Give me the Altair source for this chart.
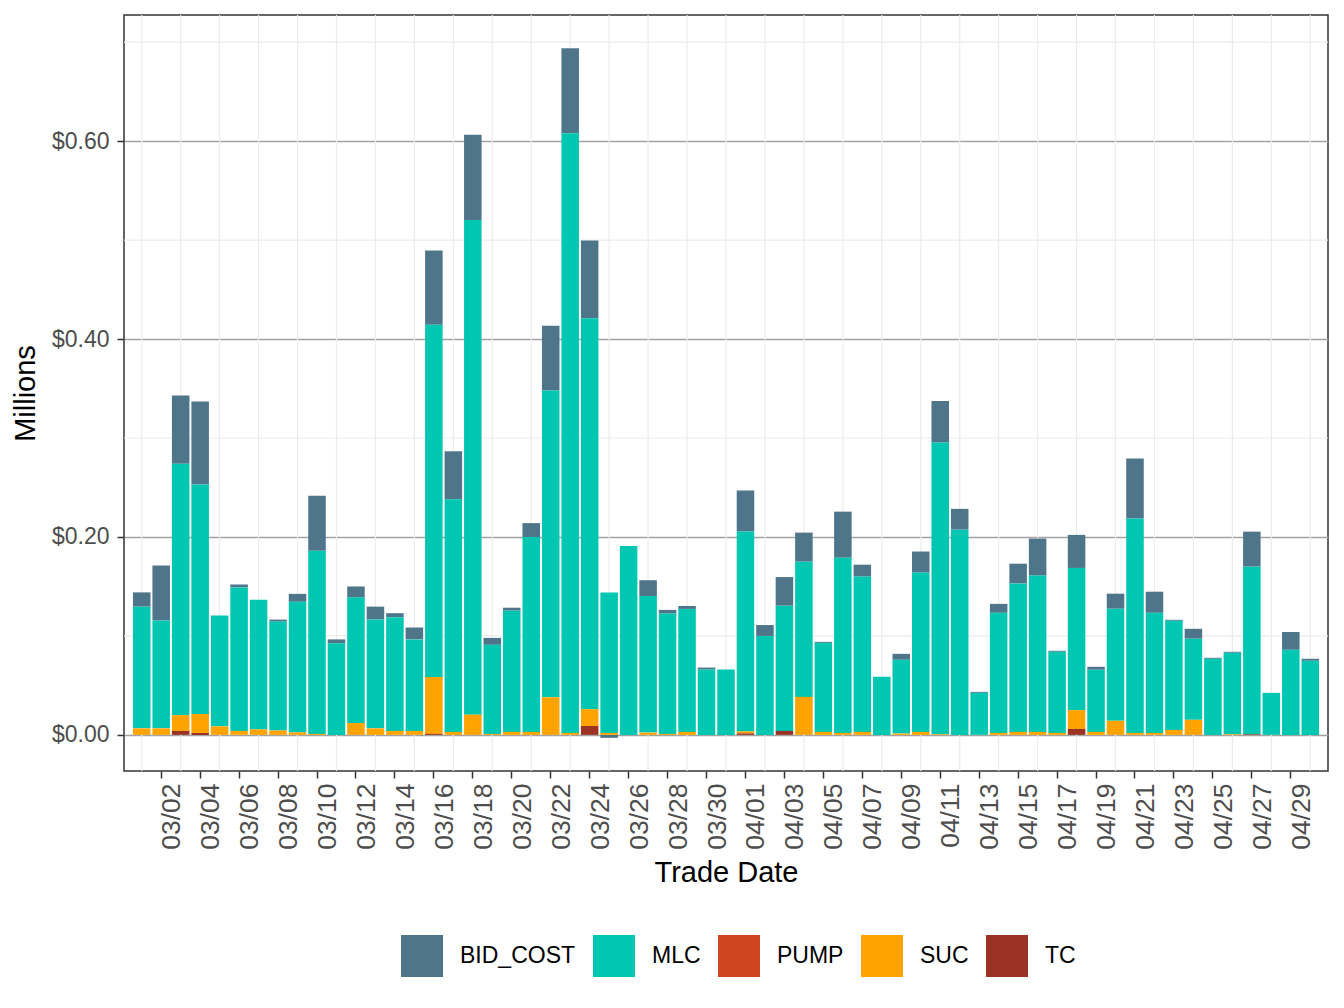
import altair as alt
import pandas as pd

# Trade dates (March 1 through April 30)
dates = list(pd.date_range("2023-03-01", "2023-04-30", freq="D").strftime("%m/%d"))

# Daily cost components, in millions of dollars
bid_cost = [0.0144, 0.0555, 0.069, 0.084, 0.0, 0.003, 0.0, 0.002, 0.008, 0.0557,
            0.004, 0.011, 0.013, 0.004, 0.012, 0.075, 0.0486, 0.086, 0.007, 0.003,
            0.014, 0.0655, 0.086, 0.0785, -0.003, 0.0, 0.016, 0.0037, 0.003, 0.002,
            0.0, 0.0415, 0.011, 0.029, 0.0294, 0.001, 0.0466, 0.012, 0.0, 0.006,
            0.0213, 0.042, 0.021, 0.001, 0.009, 0.020, 0.0374, 0.001, 0.0334, 0.003,
            0.0152, 0.0607, 0.0213, 0.001, 0.010, 0.001, 0.001, 0.0354, 0.0, 0.018,
            0.002]
mlc = [0.123, 0.109, 0.254, 0.232, 0.112, 0.145, 0.131, 0.110, 0.132, 0.185,
       0.0925, 0.127, 0.110, 0.115, 0.0925, 0.356, 0.235, 0.500, 0.090, 0.1225,
       0.197, 0.310, 0.606, 0.395, 0.142, 0.191, 0.138, 0.1216, 0.1243, 0.066,
       0.066, 0.202, 0.100, 0.1265, 0.1366, 0.090, 0.177, 0.157, 0.0587, 0.0746,
       0.161, 0.2947, 0.2074, 0.0425, 0.1214, 0.150, 0.158, 0.082, 0.1437, 0.0628,
       0.1133, 0.2166, 0.1214, 0.1103, 0.082, 0.0769, 0.0823, 0.1693, 0.0425, 0.086,
       0.0749]
pump = [0.0] * 61
suc = [0.0066, 0.0066, 0.016, 0.019, 0.0086, 0.004, 0.0055, 0.0045, 0.0025, 0.001,
       0.0, 0.012, 0.0066, 0.004, 0.004, 0.0575, 0.003, 0.0204, 0.001, 0.003,
       0.003, 0.038, 0.002, 0.017, 0.002, 0.0, 0.0023, 0.001, 0.003, 0.0,
       0.0, 0.002, 0.0, 0.0, 0.0384, 0.003, 0.002, 0.003, 0.0, 0.0013,
       0.003, 0.0007, 0.0, 0.0, 0.002, 0.003, 0.003, 0.002, 0.019, 0.003,
       0.0142, 0.002, 0.002, 0.005, 0.0152, 0.0, 0.0007, 0.0, 0.0, 0.0,
       0.0]
tc = [0.0, 0.0, 0.004, 0.002, 0.0, 0.0, 0.0, 0.0, 0.0, 0.0,
      0.0, 0.0, 0.0, 0.0, 0.0, 0.001, 0.0, 0.0, 0.0, 0.0,
      0.0, 0.0, 0.0, 0.009, 0.0, 0.0, 0.0, 0.0, 0.0, 0.0,
      0.0, 0.0015, 0.0, 0.004, 0.0, 0.0, 0.0, 0.0, 0.0, 0.0,
      0.0, 0.0, 0.0, 0.0, 0.0, 0.0, 0.0, 0.0, 0.006, 0.0,
      0.0, 0.0, 0.0, 0.0, 0.0, 0.0, 0.0, 0.0007, 0.0, 0.0,
      0.0]

components = ["BID_COST", "MLC", "PUMP", "SUC", "TC"]
colors = ["#4F758B", "#00C7B1", "#CF4520", "#FFA300", "#9A3324"]
stack_rank = {"TC": 0, "SUC": 1, "PUMP": 2, "MLC": 3, "BID_COST": 4}
series = {"BID_COST": bid_cost, "MLC": mlc, "PUMP": pump, "SUC": suc, "TC": tc}

tick_labels = dates[1::2]          # 03/02, 03/04, ..., 04/29
minor_dates = dates[0::2]          # vertical guide lines between labelled days
major_y = [0.0, 0.2, 0.4, 0.6]
minor_y = [0.1, 0.3, 0.5, 0.7]

rows = []
for comp in components:
    for d, v in zip(dates, series[comp]):
        rows.append({"date": d, "component": comp, "value": v, "rank": stack_rank[comp]})
df = pd.DataFrame(rows)

W, H = 1204, 756
FONT = "Liberation Sans"

x_scale = alt.Scale(domain=dates, paddingInner=0.1, paddingOuter=0.46)
y_scale = alt.Scale(domain=[-0.0365, 0.7275], nice=False, zero=False)

x_axis = alt.Axis(
    values=tick_labels,
    title="Trade Date",
    labelAngle=-90,
    labelAlign="right",
    labelBaseline="middle",
    labelOffset=11,
    labelFontSize=26.5,
    labelColor="#4D4D4D",
    labelPadding=5,
    tickSize=7,
    tickColor="#333333",
    tickWidth=1.5,
    domain=False,
    grid=False,
    titleFontSize=29,
    titleFontWeight="normal",
    titleColor="#000000",
    titleY=101,
    titleBaseline="middle",
)

y_axis = alt.Axis(
    values=major_y,
    format="$.2f",
    title="Millions",
    labelFontSize=23,
    labelColor="#4D4D4D",
    labelPadding=8,
    tickSize=7,
    tickColor="#333333",
    tickWidth=1.5,
    domain=False,
    grid=True,
    gridColor="#A3A3A3",
    gridWidth=1.3,
    titleFontSize=29,
    titleFontWeight="normal",
    titleColor="#000000",
    titleX=-99,
    titleY=H / 2,
    titleAlign="center",
    titleBaseline="middle",
)

vgrid = alt.Chart(pd.DataFrame({"date": minor_dates})).mark_rule(
    color="#EBEBEB", strokeWidth=1.2
).encode(
    x=alt.X("date:O", scale=x_scale, sort=None, axis=x_axis),
    y=alt.value(0),
    y2=alt.value(H),
)

hgrid = alt.Chart(pd.DataFrame({"value": minor_y})).mark_rule(
    color="#EBEBEB", strokeWidth=1.2
).encode(
    y=alt.Y("value:Q", scale=y_scale, axis=y_axis),
    x=alt.value(0),
    x2=alt.value(W),
)

bars = alt.Chart(df).mark_bar(strokeWidth=0).encode(
    x=alt.X("date:O", scale=x_scale, sort=None, axis=x_axis),
    y=alt.Y("value:Q", scale=y_scale, stack="zero", axis=y_axis),
    color=alt.Color(
        "component:N",
        scale=alt.Scale(domain=components, range=colors),
        legend=alt.Legend(
            title=None,
            orient="none",
            direction="horizontal",
            legendX=277,
            legendY=920,
            symbolType="square",
            symbolSize=1764,
            symbolStrokeWidth=0,
            symbolOpacity=1,
            labelFontSize=23,
            labelColor="#000000",
            labelOffset=17,
            columnPadding=17,
            labelLimit=400,
        ),
    ),
    order=alt.Order("rank:Q", sort="ascending"),
)

chart = alt.layer(vgrid, hgrid, bars).properties(
    width=W,
    height=H,
    autosize=alt.AutoSizeParams(type="none"),
    padding={"left": 124, "top": 15, "right": 16, "bottom": 237},
).configure(
    font=FONT,
).configure_view(
    stroke="#333333",
    strokeWidth=1.5,
).configure_axis(
    labelFont=FONT,
    titleFont=FONT,
).configure_legend(
    labelFont=FONT,
    padding=0,
)

chart.save("out.html", embed_options={"renderer": "svg", "actions": False})
